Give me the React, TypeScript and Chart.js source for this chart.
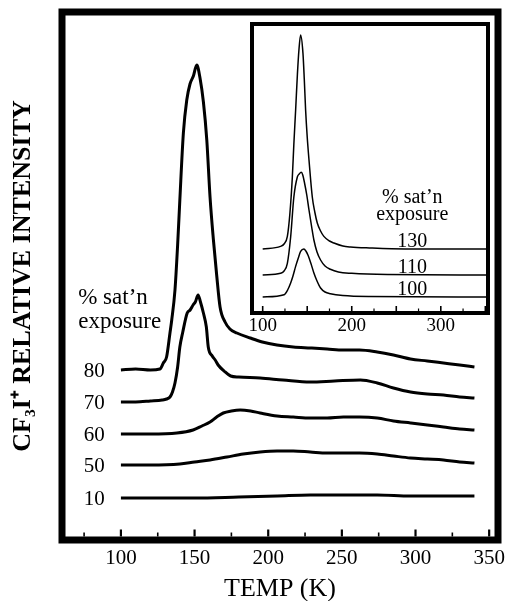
import { useEffect, useRef } from 'react';
import { Chart, registerables } from 'chart.js';
Chart.register(...registerables);

// ---------- main panel data ----------
const tempAxisTicks = [100, 150, 200, 250, 300, 350];
const tempMinorTicks = [75, 125, 175, 225, 275, 325];
const exposureLabels = ['10', '50', '60', '70', '80'];
const baselines = [42, 75, 106, 138, 170];

const temps10 = [100, 150, 180, 206, 228.5, 251, 274, 296.6, 319, 340];
const heights10 = [0, 0, 1, 2, 3, 3, 3, 2, 2, 2];

const temps50 = [100, 120, 140, 150, 160.5, 172, 183, 194.5, 206, 217, 228.5, 240, 251, 262, 274, 285, 296.6, 308, 319, 330, 340];
const heights50 = [0, 0, 1, 3, 5, 8, 11, 13, 14, 14, 13, 12, 12, 12, 11, 9, 7, 6, 5, 3, 2];

const temps60 = [100, 120, 138, 149, 155, 160.5, 165, 169.5, 175, 181, 188, 194.5, 206, 217, 228.5, 240, 251, 262, 274, 285, 296.6, 308, 319, 330, 340];
const heights60 = [0, 0, 1, 4, 8, 12, 17, 21, 23, 24, 23, 21, 18, 17, 16, 16, 17, 17, 16, 13, 11, 9, 7, 5, 4];

const temps70 = [100, 110, 120, 128, 131, 133.3, 135, 136.7, 138.5, 140, 142, 145, 147, 149, 150.5, 152.4, 154, 156, 158, 159.3, 162, 164, 166, 170, 174.5, 180, 194.5, 210, 228.5, 245, 262.6, 274, 285, 296.6, 308, 319, 330, 340];
const heights70 = [0, 0, 1, 2, 3, 5, 10, 19, 35, 55, 70, 89, 92, 97, 100, 107, 100, 89, 75, 55, 46, 42, 37, 31, 26, 25, 24, 22, 20, 21, 22, 19, 14, 10, 8, 7, 5, 4];

const temps80 = [100, 110, 120, 126.5, 128.8, 131, 133.3, 134.5, 136.7, 138.5, 140, 142.4, 144.7, 146.9, 149.2, 151.5, 153.7, 156, 158.3, 160.5, 162.8, 165, 167.3, 170.7, 174, 178.7, 187.8, 196, 205.9, 217, 228.6, 240, 251, 262, 274, 285, 296.6, 308, 319, 330, 340];
const heights80 = [0, 1, 0, 1, 7, 13, 37, 50, 80, 125, 170, 237, 270, 286, 294, 305, 292, 268, 230, 173, 130, 95, 63, 48, 41, 37, 32, 28, 25, 23, 22, 21, 20, 20, 18, 15, 11, 9, 7, 5, 3];

const mainTemps = [temps10, temps50, temps60, temps70, temps80];
const mainHeights = [heights10, heights50, heights60, heights70, heights80];
const headingLines = ['% sat\u2019n', 'exposure'];

// ---------- inset data ----------
const insetAxisTicks = [100, 200, 300];
const insetMajorMarks = [100, 150, 200, 250, 300, 350];
const insetMinorMarks = [125, 175, 225, 275, 325];
const insetLabels = ['100', '110', '130'];
const insetBaselines = [16, 38, 64];

const insetTemps100 = [100, 124, 128, 131.4, 134, 137, 140, 142.6, 146.3, 148.5, 150.8, 154, 157.5, 161, 165, 170, 176, 190, 220, 353];
const insetHeights100 = [0, 2.3, 7, 14, 21, 30.6, 39, 45.6, 48, 46, 42, 34, 24, 16, 9, 5, 3.3, 1.5, 0.5, 0];

const insetTemps110 = [100, 120, 124, 127.7, 131.4, 135, 138.9, 141, 143.3, 145, 147, 149.5, 152, 155, 157.5, 161, 165, 170, 176, 185, 200, 240, 353];
const insetHeights110 = [0, 1.7, 4, 11.7, 38, 78, 98, 101, 102.7, 100, 92, 80, 65, 48, 35, 23, 15, 9, 5.7, 3, 1.7, 0.5, 0];

const insetTemps130 = [100, 120, 124, 127.7, 130.5, 133.3, 135, 137, 139, 140.7, 142.6, 145.2, 146.7, 148.2, 150, 152, 155.7, 158.5, 161.3, 165, 168.7, 175, 180, 190, 198.6, 220, 260, 353];
const insetHeights130 = [0, 2.6, 5, 12.6, 35, 72, 105, 139, 175, 199, 214, 196, 170, 139, 112, 89, 52, 37, 26, 18, 12.6, 8, 6, 3, 2, 1, 0, 0];

const insetTemps = [insetTemps100, insetTemps110, insetTemps130];
const insetHeights = [insetHeights100, insetHeights110, insetHeights130];

const SERIF = '"Liberation Serif", "Times New Roman", serif';

function buildSets(temps: number[][], heights: number[][], bases: number[], width: number) {
  return temps.map((ts, k) => ({
    data: ts.map((t, i) => ({ x: t, y: bases[k] + heights[k][i] })),
    borderColor: '#000',
    borderWidth: width,
    pointRadius: 0,
    fill: false,
    cubicInterpolationMode: 'monotone' as const,
  }));
}

const zeroPad = (s: any) => {
  s.paddingLeft = 0;
  s.paddingRight = 0;
};

const mainDecor = {
  id: 'mainDecor',
  afterDatasetsDraw(chart: any) {
    const { ctx, chartArea: a, scales } = chart;
    const x = scales.x;
    const y = scales.y;
    ctx.save();
    ctx.strokeStyle = '#000';
    ctx.lineWidth = 7;
    ctx.lineJoin = 'miter';
    ctx.strokeRect(a.left, a.top, a.right - a.left, a.bottom - a.top);
    const inner = a.bottom - 3.5;
    ctx.lineWidth = 2.2;
    for (const v of tempAxisTicks) {
      const px = x.getPixelForValue(v);
      ctx.beginPath();
      ctx.moveTo(px, inner);
      ctx.lineTo(px, inner - 7);
      ctx.stroke();
    }
    ctx.lineWidth = 1.6;
    for (const v of tempMinorTicks) {
      const px = x.getPixelForValue(v);
      ctx.beginPath();
      ctx.moveTo(px, inner);
      ctx.lineTo(px, inner - 4);
      ctx.stroke();
    }
    ctx.fillStyle = '#000';
    ctx.font = '21px ' + SERIF;
    ctx.textAlign = 'right';
    ctx.textBaseline = 'middle';
    exposureLabels.forEach((l, i) => {
      ctx.fillText(l, x.getPixelForValue(89), y.getPixelForValue(baselines[i]) + 1);
    });
    ctx.textAlign = 'left';
    ctx.textBaseline = 'alphabetic';
    ctx.font = '23px ' + SERIF;
    ctx.fillText(headingLines[0], x.getPixelForValue(71), y.getPixelForValue(236));
    ctx.fillText(headingLines[1], x.getPixelForValue(71), y.getPixelForValue(212));
    ctx.restore();
  },
};

const insetDecor = {
  id: 'insetDecor',
  beforeDatasetsDraw(chart: any) {
    const { ctx, chartArea: a } = chart;
    ctx.save();
    ctx.fillStyle = '#fff';
    ctx.fillRect(a.left, a.top, a.right - a.left, a.bottom - a.top);
    ctx.restore();
  },
  afterDatasetsDraw(chart: any) {
    const { ctx, chartArea: a, scales } = chart;
    const x = scales.x;
    const y = scales.y;
    ctx.save();
    ctx.strokeStyle = '#000';
    ctx.lineWidth = 4;
    ctx.strokeRect(a.left, a.top, a.right - a.left, a.bottom - a.top);
    const inner = a.bottom - 2;
    ctx.lineWidth = 1.6;
    for (const v of insetMajorMarks) {
      const px = x.getPixelForValue(v);
      ctx.beginPath();
      ctx.moveTo(px, inner);
      ctx.lineTo(px, inner - 5);
      ctx.stroke();
    }
    ctx.lineWidth = 1.2;
    for (const v of insetMinorMarks) {
      const px = x.getPixelForValue(v);
      ctx.beginPath();
      ctx.moveTo(px, inner);
      ctx.lineTo(px, inner - 2.5);
      ctx.stroke();
    }
    ctx.fillStyle = '#000';
    ctx.font = '20px ' + SERIF;
    ctx.textAlign = 'center';
    ctx.textBaseline = 'alphabetic';
    insetLabels.forEach((l, i) => {
      ctx.fillText(l, x.getPixelForValue(268), y.getPixelForValue(insetBaselines[i] + 2));
    });
    ctx.fillText(headingLines[0], x.getPixelForValue(268), y.getPixelForValue(110));
    ctx.fillText(headingLines[1], x.getPixelForValue(268), y.getPixelForValue(93));
    ctx.restore();
  },
};

export default function App() {
  const mainRef = useRef<HTMLCanvasElement>(null);
  const insetRef = useRef<HTMLCanvasElement>(null);

  useEffect(() => {
    const main = new Chart(mainRef.current as HTMLCanvasElement, {
      type: 'line',
      data: { datasets: buildSets(mainTemps, mainHeights, baselines, 3) as any },
      options: {
        animation: false,
        responsive: false,
        layout: { padding: { left: 0, top: 12, right: 7, bottom: 0 } },
        plugins: { legend: { display: false }, tooltip: { enabled: false } },
        scales: {
          x: {
            type: 'linear',
            min: 60,
            max: 356,
            afterBuildTicks: (s: any) => {
              s.ticks = tempAxisTicks.map((v) => ({ value: v }));
            },
            afterFit: zeroPad,
            grid: { display: false, drawTicks: false },
            border: { display: false },
            ticks: { color: '#000', padding: 7.5, maxRotation: 0, autoSkip: false, font: { family: SERIF, size: 21, lineHeight: 1 } },
            title: { display: true, text: 'TEMP (K)', color: '#000', font: { family: SERIF, size: 26, lineHeight: 0.9 }, padding: { top: 1.6, bottom: 0 } },
          },
          y: {
            type: 'linear',
            min: 0,
            max: 528,
            grid: { display: false, drawTicks: false },
            border: { display: false },
            ticks: { display: false },
            title: {
              display: true,
              text: 'CF\u2083I\u207A RELATIVE INTENSITY',
              color: '#000',
              font: { family: SERIF, size: 26, weight: 'bold', lineHeight: 1 },
              padding: { top: 10, bottom: 26 },
            },
          },
        },
      },
      plugins: [mainDecor],
    });

    const inset = new Chart(insetRef.current as HTMLCanvasElement, {
      type: 'line',
      data: { datasets: buildSets(insetTemps, insetHeights, insetBaselines, 1.5) as any },
      options: {
        animation: false,
        responsive: false,
        layout: { padding: { left: 30, top: 10, right: 14, bottom: 5 } },
        plugins: { legend: { display: false }, tooltip: { enabled: false } },
        scales: {
          x: {
            type: 'linear',
            min: 88,
            max: 353,
            afterBuildTicks: (s: any) => {
              s.ticks = insetAxisTicks.map((v) => ({ value: v }));
            },
            afterFit: zeroPad,
            grid: { display: false, drawTicks: false },
            border: { display: false },
            ticks: { color: '#000', padding: 3.5, maxRotation: 0, autoSkip: false, font: { family: SERIF, size: 19, lineHeight: 1 } },
          },
          y: {
            type: 'linear',
            display: false,
            min: 0,
            max: 289,
          },
        },
      },
      plugins: [insetDecor],
    });

    return () => {
      main.destroy();
      inset.destroy();
    };
  }, []);

  return (
    <div style={{ position: 'fixed', left: 0, top: 0, width: 505, height: 601, background: '#fff' }}>
      <canvas ref={mainRef} width={505} height={601} style={{ position: 'absolute', left: 0, top: 0 }} />
      <canvas ref={insetRef} width={280} height={330} style={{ position: 'absolute', left: 222, top: 14 }} />
    </div>
  );
}
